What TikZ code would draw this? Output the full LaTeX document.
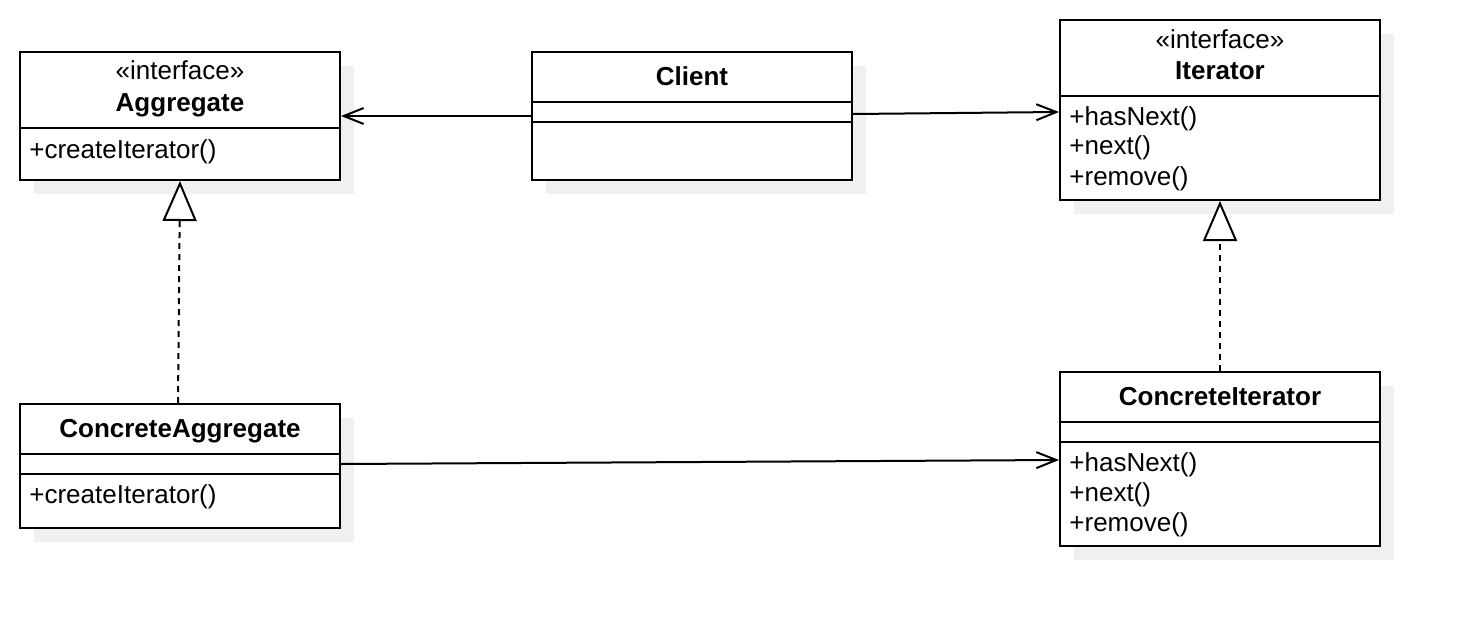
\documentclass[tikz,border=0pt]{standalone}
\usepackage{fontspec}
\setmainfont{Liberation Sans}
\usetikzlibrary{arrows.meta,shadows}
\begin{document}
\begin{tikzpicture}[x=0.5pt,y=-0.5pt,
 font=\fontsize{13pt}{15pt}\selectfont,
 cls/.style={draw, line width=1pt, fill=white, rectangle, inner sep=0pt,
   drop shadow={shadow xshift=7pt, shadow yshift=-7pt, fill=black!6, opacity=1}},
 sep/.style={line width=1pt},
 ttl/.style={font=\fontsize{13pt}{15pt}\selectfont\bfseries, inner sep=0pt},
 txt/.style={inner sep=0pt},
 ster/.style={inner sep=0pt},
 assoc/.style={line width=1pt, -{Straight Barb[length=10pt,width=8pt]}},
 real/.style={line width=1pt, dash pattern=on 3pt off 2.5pt,
   -{Triangle[open, fill=white, length=20pt, width=17pt]}}]
\useasboundingbox (0,0) rectangle (1460,626);

% Aggregate
\node[cls, minimum width=160pt, minimum height=64pt] (agg) at (180,116) {};
\draw[sep] (20,128) -- (340,128);
\node[ster, anchor=base] (aggS) at (180,80) {«interface»};
\node[ttl, anchor=base] (aggT) at (180,112) {Aggregate};
\node[txt, anchor=base west] (aggM) at (29,158) {+createIterator()};

% Client
\node[cls, minimum width=160pt, minimum height=64pt] (client) at (692,116) {};
\draw[sep] (532,102) -- (852,102);
\draw[sep] (532,122) -- (852,122);
\node[ttl, anchor=base] (clientT) at (692,86) {Client};

% Iterator
\node[cls, minimum width=160pt, minimum height=90pt] (iter) at (1220,110) {};
\draw[sep] (1060,96) -- (1380,96);
\node[ster, anchor=base] (iterS) at (1220,49) {«interface»};
\node[ttl, anchor=base] (iterT) at (1220,80) {Iterator};
\node[txt, anchor=base west] (iterM1) at (1069,126) {+hasNext()};
\node[txt, anchor=base west] (iterM2) at (1069,155) {+next()};
\node[txt, anchor=base west] (iterM3) at (1069,185) {+remove()};

% ConcreteAggregate
\node[cls, minimum width=160pt, minimum height=62pt] (ca) at (180,466) {};
\draw[sep] (20,454) -- (340,454);
\draw[sep] (20,474) -- (340,474);
\node[ttl, anchor=base] (caT) at (180,437) {ConcreteAggregate};
\node[txt, anchor=base west] (caM) at (29,503) {+createIterator()};

% ConcreteIterator
\node[cls, minimum width=160pt, minimum height=87pt] (ci) at (1220,459) {};
\draw[sep] (1060,422) -- (1380,422);
\draw[sep] (1060,442) -- (1380,442);
\node[ttl, anchor=base] (ciT) at (1220,405) {ConcreteIterator};
\node[txt, anchor=base west] (ciM1) at (1069,471) {+hasNext()};
\node[txt, anchor=base west] (ciM2) at (1069,501) {+next()};
\node[txt, anchor=base west] (ciM3) at (1069,531) {+remove()};

% connectors
\draw[assoc] (client.west) -- (agg.east);
\draw[assoc] ([yshift=1pt]client.east) -- ([yshift=-1pt]iter.west);
\draw[assoc] ([yshift=1pt]ca.east) -- ([yshift=-0.5pt]ci.west);
\draw[real] ([xshift=-1pt]ca.north) -- (agg.south);
\draw[real] (ci.north) -- (iter.south);
\end{tikzpicture}
\end{document}
